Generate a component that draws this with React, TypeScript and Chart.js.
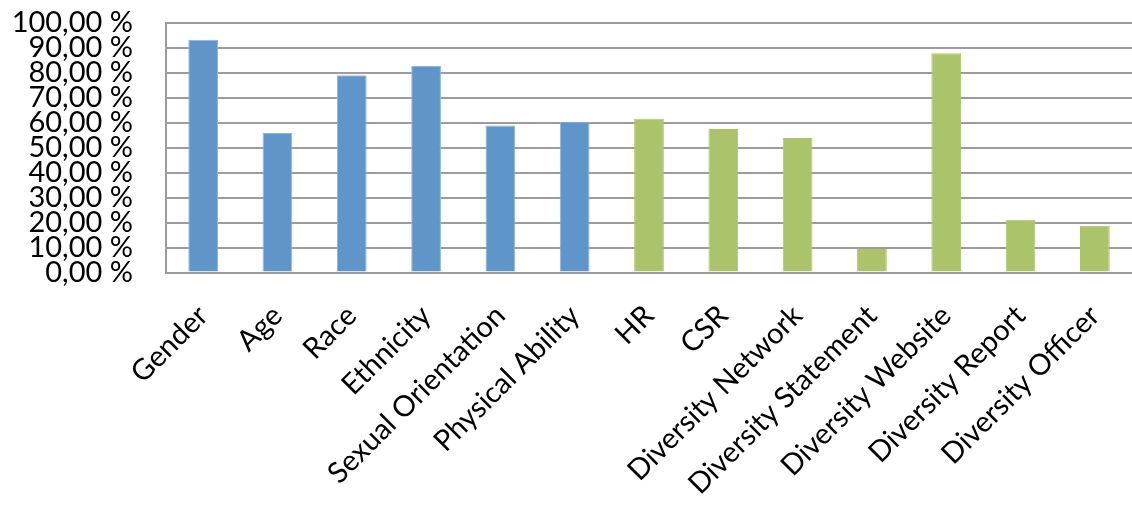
import React, { useEffect, useRef } from "react";
import { Chart, registerables } from "chart.js";

Chart.register(...registerables);

const categories = [
  "Gender",
  "Age",
  "Race",
  "Ethnicity",
  "Sexual Orientation",
  "Physical Ability",
  "HR",
  "CSR",
  "Diversity Network",
  "Diversity Statement",
  "Diversity Website",
  "Diversity Report",
  "Diversity Officer",
];

const values = [93.3, 55.9, 79.1, 82.8, 58.9, 60.4, 61.6, 57.5, 53.9, 9.4, 87.9, 21.1, 18.7];

// number of leading categories in the first (blue) group
const firstGroupCount = 6;

const BLUE = "#5f95c9";
const BLUE_EDGE = "#8db5de";
const GREEN = "#abc46b";
const GRID = "#9c9c9c";
const FONT = "Lato, 'Open Sans', sans-serif";

export default function App() {
  const ref = useRef<HTMLCanvasElement | null>(null);

  useEffect(() => {
    document.body.style.margin = "0";
    const canvas = ref.current;
    if (!canvas) return;
    const colors = categories.map((_, i) => (i < firstGroupCount ? BLUE : GREEN));
    const edges = categories.map((_, i) => (i < firstGroupCount ? BLUE_EDGE : GREEN));
    const chart = new Chart(canvas, {
      type: "bar",
      data: {
        labels: categories,
        datasets: [
          {
            data: values,
            backgroundColor: colors,
            borderColor: edges,
            borderWidth: 1,
            barPercentage: 0.4,
            categoryPercentage: 1,
          },
        ],
      },
      options: {
        animation: false,
        responsive: true,
        maintainAspectRatio: false,
        layout: { padding: { top: 23, right: -5, left: 0, bottom: 0 } },
        plugins: {
          legend: { display: false },
          tooltip: { enabled: false },
        },
        scales: {
          x: {
            grid: { display: false, drawTicks: false },
            border: { display: true, color: GRID, width: 2 },
            ticks: {
              color: "#000",
              font: { family: FONT, size: 29 },
              minRotation: 45,
              maxRotation: 45,
              autoSkip: false,
              padding: 26,
            },
            afterFit: (scale: any) => {
              scale.height = 234.5;
              scale.paddingLeft = 0;
              scale.paddingRight = 0;
            },
          },
          y: {
            min: 0,
            max: 100,
            grid: { color: GRID, lineWidth: 2, drawTicks: false },
            border: { display: true, color: GRID, width: 2 },
            ticks: {
              stepSize: 10,
              autoSkip: false,
              color: "#000",
              font: { family: FONT, size: 29, lineHeight: 1 },
              padding: 33,
              callback: (v: any) => Number(v).toFixed(2).replace(".", ",") + " %",
            },
            afterFit: (scale: any) => {
              scale.width = 166;
              scale.paddingTop = 0;
              scale.paddingBottom = 0;
            },
          },
        },
      },
    });
    return () => chart.destroy();
  }, []);

  return (
    <div style={{ width: 1132, height: 507, position: "relative" }}>
      <canvas ref={ref} />
    </div>
  );
}
